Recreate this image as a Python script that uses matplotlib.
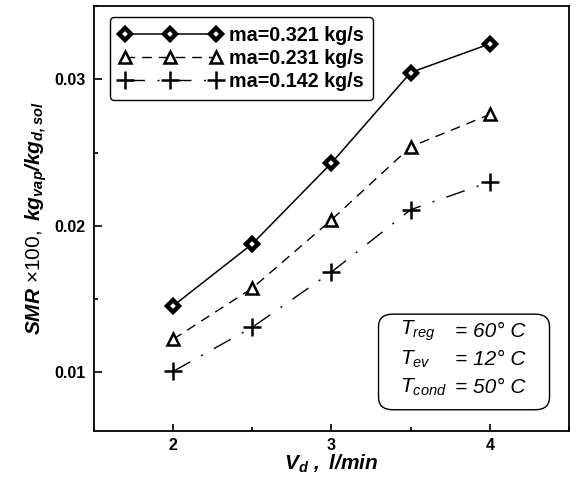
import numpy as np
import matplotlib
matplotlib.use('Agg')
import matplotlib.pyplot as plt
from matplotlib.patches import FancyBboxPatch
from matplotlib.ticker import MultipleLocator

# data
vd = [2.0, 2.5, 3.0, 3.5, 4.0]
smr_0321 = [0.01454, 0.01877, 0.02429, 0.03046, 0.03242]
smr_0231 = [0.01226, 0.01575, 0.02041, 0.02539, 0.02760]
smr_0142 = [0.01007, 0.01308, 0.01685, 0.02110, 0.02300]
labels = ['ma=0.321 kg/s', 'ma=0.231 kg/s', 'ma=0.142 kg/s']

# conditions box
cond_names = [r'$T_{reg}$', r'$T_{ev}$', r'$T_{cond}$']
cond_vals = ['= 60\u00b0 C', '= 12\u00b0 C', '= 50\u00b0 C']

plt.rcParams['font.family'] = 'Liberation Sans'
plt.rcParams['mathtext.fontset'] = 'custom'
plt.rcParams['mathtext.rm'] = 'Liberation Sans'
plt.rcParams['mathtext.it'] = 'Liberation Sans:italic'
plt.rcParams['mathtext.bf'] = 'Liberation Sans:bold:italic'

fig = plt.figure(figsize=(5.76, 4.82), dpi=100)
ax = fig.add_axes([94/576, 1-431/482, (569-94)/576, (431-6)/482])

ax.plot(vd, smr_0321, color='k', lw=1.1, marker='D', ms=6.5, mfc='white',
        mec='k', mew=3.2, label=labels[0])
ax.plot(vd, smr_0231, color='k', lw=1.0, ls=(0, (7, 5)), marker='^', ms=8,
        mfc='white', mec='k', mew=1.8, label=labels[1])
ax.plot(vd, smr_0142, color='k', lw=1.0, ls=(0, (14, 9, 1.5, 9)), marker='+',
        ms=13, mec='k', mew=1.8, label=labels[2])

ax.set_xlim(1.5, 4.5)
ax.set_ylim(0.006, 0.035)
ax.xaxis.set_major_locator(MultipleLocator(1))
ax.xaxis.set_minor_locator(MultipleLocator(0.5))
ax.yaxis.set_major_locator(MultipleLocator(0.01))
ax.yaxis.set_minor_locator(MultipleLocator(0.005))
ax.tick_params(which='both', direction='in', top=False, right=False, width=1.2)
ax.tick_params(axis='y', which='major', length=6, labelsize=11.5, pad=6)
ax.tick_params(axis='y', which='minor', length=3)
ax.tick_params(axis='x', which='major', length=5, labelsize=11.5, pad=5)
ax.tick_params(axis='x', which='minor', length=3)
for lab in ax.get_xticklabels() + ax.get_yticklabels():
    lab.set_fontweight('bold')
for sp in ax.spines.values():
    sp.set_linewidth(1.3)

ax.set_xlabel(r'$\mathbf{V_d}$ $\mathbf{,\ l/min}$', fontsize=15, labelpad=0)
ax.set_ylabel(r'$\mathbf{SMR}\ \mathrm{{\times}100},\ \mathbf{kg_{vap}/kg_{d,sol}}$',
              fontsize=15, labelpad=4)

leg = ax.legend(loc='upper left', bbox_to_anchor=(16/475, 1-11/425), numpoints=3,
                handlelength=5.2, fancybox=True, framealpha=1, borderaxespad=0,
                edgecolor='k', borderpad=0.45, labelspacing=0.2, handletextpad=0.4,
                prop={'weight': 'bold', 'size': 14.2})
leg.get_frame().set_linewidth(1.0)

# conditions box (axes fraction)
box = FancyBboxPatch((0.599, 0.05), 0.36, 0.225, boxstyle='round,pad=0,rounding_size=0.03',
                     transform=ax.transAxes, fc='white', ec='k', lw=1.0)
ax.add_patch(box)
for i, (n, v) in enumerate(zip(cond_names, cond_vals)):
    yy = 0.235 - i * 0.066
    ax.text(0.645, yy, n, transform=ax.transAxes, fontsize=15, va='center')
    ax.text(0.76, yy, v, transform=ax.transAxes, fontsize=15, va='center',
            style='italic')

fig.savefig('out.png', dpi=100)
